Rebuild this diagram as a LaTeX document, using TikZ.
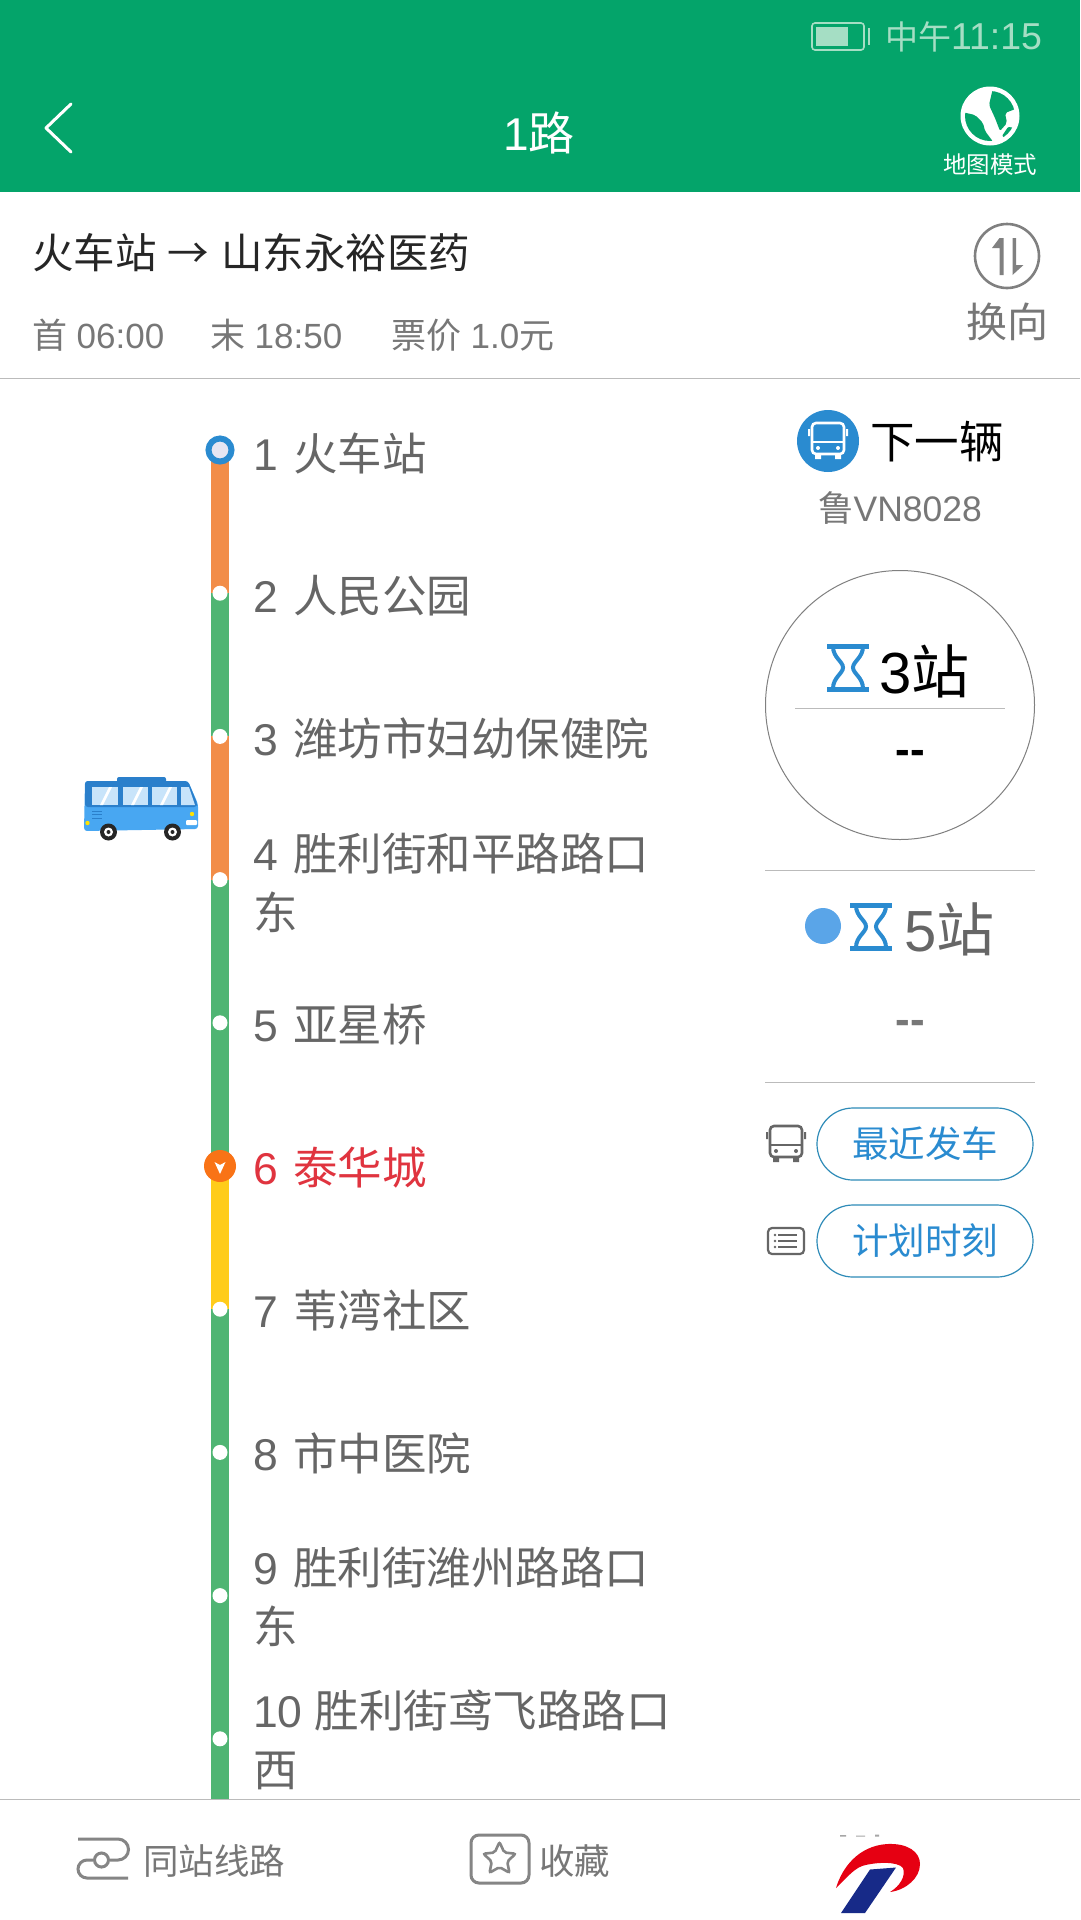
\documentclass[tikz,border=0pt]{standalone}
\usepackage{fontspec}
\setmainfont{Liberation Sans}
\newfontfamily\cjk{Noto Sans CJK SC}
\usetikzlibrary{positioning, calc, shapes.geometric}
\definecolor{headergreen}{RGB}{4,164,106}
\definecolor{statuslight}{RGB}{165,222,196}
\definecolor{lineorange}{RGB}{242,141,72}
\definecolor{linegreen}{RGB}{79,181,115}
\definecolor{lineyellow}{RGB}{255,204,26}
\definecolor{markorange}{RGB}{249,115,22}
\definecolor{ringblue}{RGB}{42,139,208}
\definecolor{dotblue}{RGB}{90,165,232}
\definecolor{textgray}{RGB}{102,102,102}
\definecolor{softgray}{RGB}{119,119,119}
\definecolor{rulegray}{RGB}{187,187,187}
\definecolor{alertred}{RGB}{224,52,63}
\definecolor{pillblue}{RGB}{46,139,184}
\definecolor{busbody}{RGB}{72,167,242}
\definecolor{busdark}{RGB}{42,127,203}
\definecolor{buswindow}{RGB}{200,228,250}
\definecolor{logored}{RGB}{230,0,18}
\definecolor{logonavy}{RGB}{23,42,136}
\newcommand{\fs}[1]{\fontsize{#1}{#1}\selectfont}
\newcommand{\gap}{\hspace{15.5pt}}
\tikzset{
    txt/.style={inner sep=0pt, outer sep=0pt},
    stoplabel/.style={txt, anchor=west, align=left, text=textgray, font=\fontsize{44.5}{59}\selectfont},
    seg/.style={line width=18pt},
    stopdot/.style={circle, fill=white, inner sep=0pt, minimum size=15pt},
    hairline/.style={rulegray, line width=1.5pt},
    pillbox/.style={txt, draw=pillblue, line width=1.2pt, rounded corners=36pt, minimum width=216pt, minimum height=72pt, text=ringblue, font=\cjk\fs{36.5}},
    pics/hourglass/.style={code={
        \draw[ringblue, line width=5pt] (-21,-21.5) -- (21,-21.5) (-21,21.5) -- (21,21.5);
        \draw[ringblue, line width=4pt] (-15,-21) .. controls (-15,-10) and (-5,-6) .. (-5,0) .. controls (-5,6) and (-15,10) .. (-15,21);
        \draw[ringblue, line width=4pt] (15,-21) .. controls (15,-10) and (5,-6) .. (5,0) .. controls (5,6) and (15,10) .. (15,21);
    }},
    pics/busicon/.style={code={
        \draw[#1, line width=2.6pt, rounded corners=4pt] (-16,-17) rectangle (16,14);
        \draw[#1, line width=2.6pt] (-16,2) -- (16,2);
        \fill[#1] (-10,8) circle (2pt) (10,8) circle (2pt);
        \fill[#1] (-13,14) rectangle (-7,19) (7,14) rectangle (13,19);
        \fill[#1] (-20,-11) rectangle (-18,-4) (18,-11) rectangle (20,-4);
    }}
}
\begin{document}
\begin{tikzpicture}[x=1pt, y=-1pt]
    \useasboundingbox (0,0) rectangle (1080,1920);
    \fill[white] (0,0) rectangle (1080,1920);

    % header
    \fill[headergreen] (0,0) rectangle (1080,192);
    \draw[statuslight, line width=1.6pt, rounded corners=3pt] (812,23) rectangle (864,50);
    \fill[statuslight] (816,27) rectangle (848,46);
    \fill[statuslight] (868,28) rectangle (870,45);
    \node[txt, anchor=west, text=statuslight, font=\fs{37.5}] (clock) at (885,37) {{\cjk\fs{33}中午}11:15};
    \coordinate (backtop) at (71,104);
    \coordinate (backtip) at (46,128);
    \coordinate (backbot) at (71,152);
    \draw[white, line width=3pt, line cap=round, line join=round] (backtop) -- (backtip) -- (backbot);
    \node[txt, text=white, font=\fs{46}] (title) at (539,133) {1{\cjk 路}};
    \begin{scope}
        \fill[white] (990,116) circle (29.5pt);
        \clip (990,116) circle (25pt);
        \fill[headergreen, rounded corners=2pt] (993,88) -- (1008,92) -- (1018,108) -- (1005,113) -- (1007,123) -- (1000,131) -- (995,118) -- (989,105) -- cycle;
        \fill[headergreen, rounded corners=2pt] (962,112) -- (975,115) -- (983,123) -- (985,131) -- (994,143) -- (980,146) -- (964,132) -- cycle;
        \fill[headergreen, rounded corners=1pt] (1002,136) -- (1008,127) -- (1018,128) -- (1012,142) -- cycle;
    \end{scope}
    \node[txt, text=white, font=\cjk\fs{23.5}] (mapmode) at (990,165) {地图模式};

    % line info
    \node[txt, anchor=west, text=black!85, font=\fs{41.5}] (direction) at (32,253) {{\cjk 火车站} {\cjk →} {\cjk 山东永裕医药}};
    \node[txt, anchor=west, text=softgray, font=\fs{35}] (first) at (32,335) {{\cjk 首} 06:00};
    \node[txt, anchor=west, text=softgray, font=\fs{35}] (last) at (210,335) {{\cjk 末} 18:50};
    \node[txt, anchor=west, text=softgray, font=\fs{35}] (fare) at (391,335) {{\cjk 票价} 1.0{\cjk 元}};
    \draw[gray, line width=2.6pt] (1007,256) circle (32pt);
    \fill[gray] (999.5,238) -- (1003.5,238) -- (1003.5,275) -- (999.5,275) -- (999.5,248) -- (992,248) -- cycle;
    \fill[gray] (1012.5,238) -- (1016,238) -- (1016,265) -- (1023.5,265) -- (1012.5,275) -- cycle;
    \node[txt, text=softgray, font=\cjk\fs{41}] (swap) at (1007,322) {换向};
    \draw[hairline] (0,378.5) -- (1080,378.5);

    % stops
    \foreach \n in {1,...,10} {
        \coordinate (s\n) at (220,{450+143.2*(\n-1)});
    }
    \coordinate (lineend) at (220,1799);
    \draw[seg, lineorange] (s1) -- (s2);
    \draw[seg, linegreen] (s2) -- (s3);
    \draw[seg, lineorange] (s3) -- (s4);
    \draw[seg, linegreen] (s4) -- (s6);
    \draw[seg, lineyellow] (s6) -- (s7);
    \draw[seg, linegreen] (s7) -- (lineend);

    \node[circle, draw=ringblue, line width=6pt, fill={rgb,255:red,230;green,230;blue,242}, inner sep=0pt, minimum size=23pt] (first stop) at (s1) {};
    \foreach \n in {2,3,4,5,7,8,9,10} {
        \node[stopdot] (dot\n) at (s\n) {};
    }
    \node[circle, fill=markorange, inner sep=0pt, minimum size=32pt] (current) at (s6) {};
    \fill[white] ($(current)+(-5.5,-4)$) -- ($(current)+(0,-1)$) -- ($(current)+(5.5,-4)$) -- ($(current)+(0,8)$) -- cycle;

    \foreach \n/\lab/\shift in {
        1/{1\gap{\cjk 火车站}}/3, 2/{2\gap{\cjk 人民公园}}/3, 3/{3\gap{\cjk 潍坊市妇幼保健院}}/2.5,
        4/{4\gap{\cjk 胜利街和平路路口}\\{\cjk 东}}/3, 5/{5\gap{\cjk 亚星桥}}/1.5,
        7/{7\gap{\cjk 苇湾社区}}/1, 8/{8\gap{\cjk 市中医院}}/1,
        9/{9\gap{\cjk 胜利街潍州路路口}\\{\cjk 东}}/1, 10/{10 {\cjk 胜利街鸢飞路路口}\\{\cjk 西}}/1} {
        \node[stoplabel] (lab\n) at ($(s\n)+(33,\shift)$) {\lab};
    }
    \node[stoplabel, text=alertred] (lab6) at ($(s6)+(33,1.5)$) {6\gap{\cjk 泰华城}};

    % bus on the line
    \fill[busdark, rounded corners=2pt] (117,777) rectangle (166,784);
    \fill[busbody, rounded corners=3pt] (85,781) -- (188,781) -- (198,804) -- (198,829) -- (84,831) -- cycle;
    \fill[busdark, rounded corners=3pt] (85,781) -- (188,781) -- (197,803) -- (197,807) -- (85,807) -- cycle;
    \foreach \wa/\wb in {92/118, 123/148, 152/177} {
        \fill[buswindow] (\wa,787) rectangle (\wb,805);
        \fill[white] ({\wa+8},805) -- ({\wa+11},805) -- ({\wa+20},787) -- ({\wa+17},787) -- cycle;
    }
    \fill[buswindow] (181,787) -- (189,787) -- (195,805) -- (181,805) -- cycle;
    \draw[busdark, line width=1pt] (92,811) -- (102,811) (92,814.5) -- (102,814.5) (92,818) -- (102,818);
    \fill[yellow!85!orange] (192,814) circle (2.2pt) (87.5,823) circle (2.2pt);
    \fill[white, rounded corners=1pt] (186,820) rectangle (197,825);
    \foreach \wx in {108.5, 172.5} {
        \fill[black!85] (\wx,832) circle (8.5pt);
        \fill[white] (\wx,832) circle (4.5pt);
        \fill[black!85] (\wx,832) circle (2pt);
    }

    % right column
    \node[circle, fill=ringblue, inner sep=0pt, minimum size=62pt] (nextbadge) at (828,441) {};
    \pic at (828,440) {busicon=white};
    \node[txt, anchor=west, text=black, font=\cjk\fs{44.5}] (nextbus) at (870,442) {下一辆};
    \node[txt, text=softgray, font=\fs{35.5}] (plate) at (900,508) {{\cjk 鲁}VN8028};
    \node[circle, draw=gray, line width=1pt, inner sep=0pt, minimum size=269pt] (dial) at (900,705) {};
    \pic at (848,667.5) {hourglass};
    \node[txt, anchor=west, text=black, font=\fs{58}] (stops3) at (879,671) {3{\cjk 站}};
    \draw[rulegray, line width=1pt] (795,708.5) -- (1005,708.5);
    \node[txt, text=black, font=\bfseries\fs{44}] (eta3) at (910,757) {{-}{-}};
    \draw[hairline] (765,870.5) -- (1035,870.5);
    \node[circle, fill=dotblue, inner sep=0pt, minimum size=36pt] (nextdot) at (823,926) {};
    \pic at (871,926.5) {hourglass};
    \node[txt, anchor=west, text=textgray, font=\fs{58}] (stops5) at (904,929) {5{\cjk 站}};
    \node[txt, text=softgray, font=\bfseries\fs{44}] (eta5) at (910,1027) {{-}{-}};
    \draw[hairline] (765,1082.5) -- (1035,1082.5);

    \pic at (786,1143) {busicon=textgray};
    \node[pillbox] (recent) at (925,1144) {\raisebox{-3pt}{最近发车}};
    \draw[textgray, line width=2.2pt, rounded corners=4pt] (768,1228) rectangle (804,1254);
    \draw[textgray, line width=2pt] (778,1235) -- (797,1235) (778,1241) -- (797,1241) (778,1247) -- (797,1247);
    \fill[textgray] (775,1235) circle (1.4pt) (775,1241) circle (1.4pt) (775,1247) circle (1.4pt);
    \node[pillbox] (schedule) at (925,1241) {\raisebox{-3pt}{计划时刻}};

    % bottom bar
    \fill[white] (0,1799) rectangle (1080,1920);
    \draw[hairline] (0,1799.5) -- (1080,1799.5);
    \node[circle, draw=softgray!90, line width=3pt, inner sep=0pt, minimum size=14pt] (hub) at (101.5,1860) {};
    \coordinate (hubtop) at (78,1839);
    \coordinate (hubbot) at (128,1878);
    \draw[softgray!90, line width=3pt] (hubtop) -- (118,1839) arc (90:-90:10.5pt) -- (hub.east);
    \draw[softgray!90, line width=3pt] (hub.west) -- (87,1860) arc (90:270:9pt) -- (hubbot);
    \node[txt, anchor=west, text=softgray, font=\cjk\fs{35.5}] (sameline) at (143,1861) {同站线路};
    \draw[softgray!90, line width=3pt, rounded corners=8pt] (471,1835) rectangle (529,1883);
    \node[star, star points=5, star point ratio=2.1, draw=softgray!90, line width=2.6pt, rounded corners=2pt, inner sep=0pt, minimum size=34pt] (favstar) at (499.5,1859) {};
    \node[txt, anchor=west, text=softgray, font=\cjk\fs{35.5}] (favorite) at (539,1861) {收藏};
    \fill[logored] (836,1888) .. controls (842,1868) and (858,1846) .. (887,1844)
        .. controls (908,1843) and (920,1852) .. (920,1864) .. controls (920,1878) and (906,1890) .. (890,1892)
        .. controls (900,1886) and (906,1876) .. (903,1868) .. controls (898,1861) and (875,1862) .. (862,1866)
        .. controls (852,1870) and (845,1880) .. (836,1888) -- cycle;
    \fill[logonavy] (870,1869.5) -- (896,1867.5) -- (865,1913) -- (841,1913) -- cycle;
    \fill[gray!70] (840,1835) rectangle (846,1836.5) (856,1835.5) rectangle (865,1836.5) (875,1834.5) rectangle (879,1836.5);
\end{tikzpicture}
\end{document}
